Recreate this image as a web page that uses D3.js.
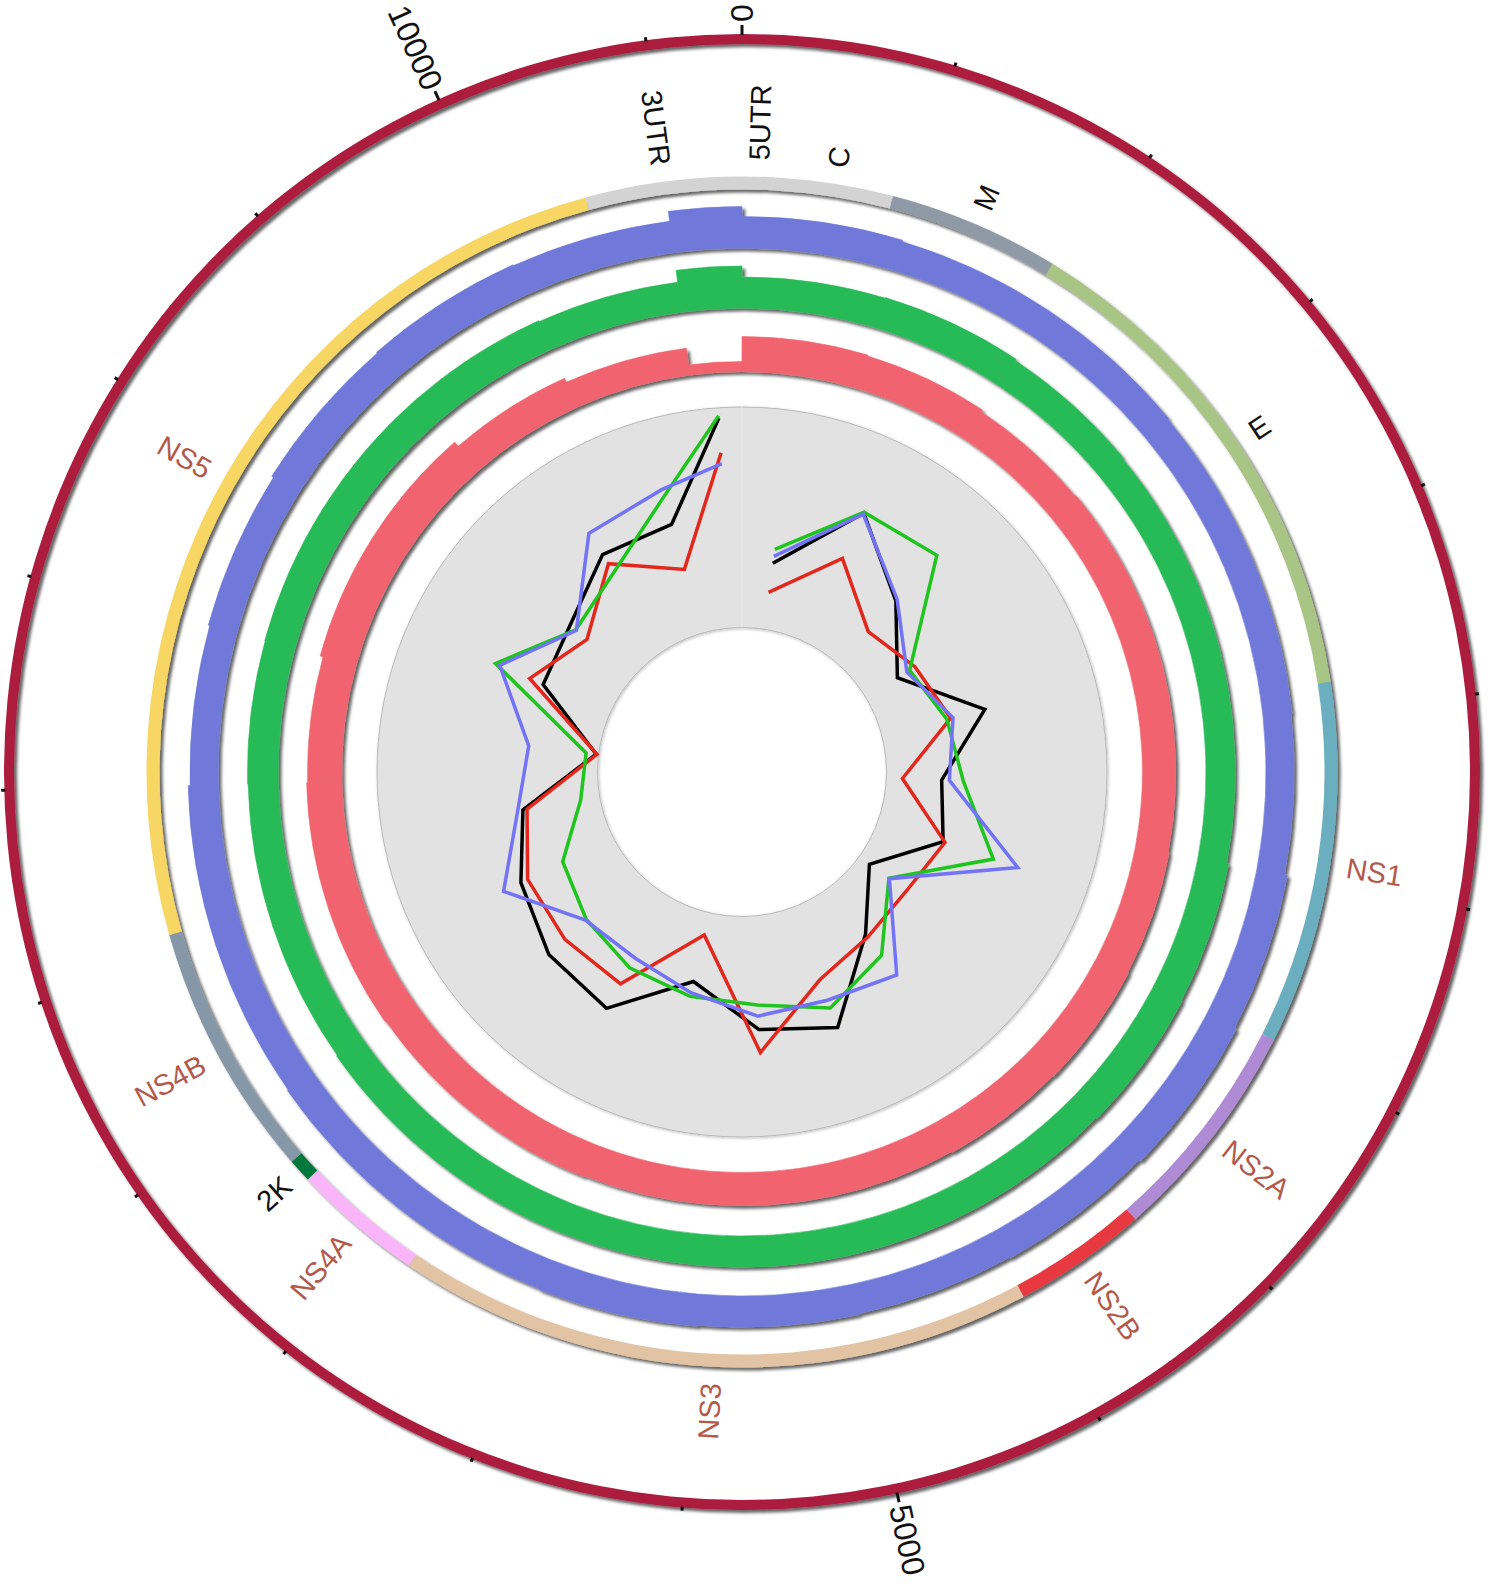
<!DOCTYPE html>
<html>
<head>
<meta charset="utf-8">
<script src="https://cdn.jsdelivr.net/npm/d3@7"></script>
<style>
  body { margin: 0; background: #fff; }
  text { font-family: "Liberation Sans", Arial, sans-serif; }
</style>
</head>
<body>
<div id="chart"></div>
<script>
// genome annotation (DENV-2, 10723 nt)
const genomeLength = 10723;
const genes      = ['5UTR', 'C', 'M', 'E', 'NS1', 'NS2A', 'NS2B', 'NS3', 'NS4A', '2K', 'NS4B', 'NS5', '3UTR'];
const geneStart  = [0, 96, 438, 936, 2421, 3477, 4131, 4521, 6375, 6756, 6825, 7569, 10269];
const geneEnd    = [96, 438, 936, 2421, 3477, 4131, 4521, 6375, 6756, 6825, 7569, 10269, 10723];
const geneColors = ['#d3d3d3', '#d3d3d3', '#8e9aa6', '#a9c585', '#6aaec0', '#b08bd5', '#e8373f',
                    '#e2c3a3', '#fab5fa', '#06783a', '#8698a8', '#f7d663', '#d3d3d3'];
const labelColors = ['#111', '#111', '#111', '#111', '#b2594b', '#b2594b', '#b2594b',
                     '#b2594b', '#b2594b', '#111', '#b2594b', '#b2594b', '#111'];

// 500 nt windows
const windowSize = 500;
const windowStarts = d3.range(0, genomeLength, windowSize);

// histogram tracks (one value per window)
const blueBins  = [63, 60, 60, 58, 58, 56, 62, 66, 62, 60, 62, 64, 62, 62, 60, 60, 56, 59, 63, 65, 63, 83];
const greenBins = [62, 63, 60, 58, 58, 58, 62, 64, 62, 62, 62, 62, 62, 62, 60, 60, 61, 62, 62, 62, 60, 84];
const redBins   = [70, 68, 64, 66, 66, 66, 68, 70, 68, 66, 66, 66, 68, 68, 70, 70, 68, 74, 74, 63, 54, 20];

// line tracks (one value per window midpoint)
const blackLine = [0.302, 0.642, 0.388, 0.169, 0.482, 0.251, 0.310, 0.058, 0.269, 0.582, 0.515,
                   0.320, 0.580, 0.550, 0.466, 0.353, 0.011, 0.330, 0.370, 0.516, 0.512, 0.953];
const redLine   = [0.168, 0.415, 0.201, 0.263, 0.322, 0.073, 0.319, 0.265, 0.286, 0.351, 0.620,
                   0.103, 0.452, 0.450, 0.432, 0.334, 0.007, 0.397, 0.270, 0.467, 0.300, 0.796];
const greenLine = [0.365, 0.646, 0.666, 0.234, 0.304, 0.349, 0.551, 0.167, 0.389, 0.487, 0.404,
                   0.389, 0.369, 0.317, 0.254, 0.087, 0.057, 0.566, 0.337, 0.421, 0.642, 0.964];
const blueLine  = [0.333, 0.637, 0.397, 0.219, 0.333, 0.286, 0.668, 0.170, 0.502, 0.450, 0.454,
                   0.372, 0.318, 0.322, 0.554, 0.377, 0.319, 0.545, 0.333, 0.631, 0.676, 0.746];

const majorTicks = [0, 5000, 10000];

const width = 1492;
const height = 1587;
const cx = 742, cy = 772;

const svg = d3.select('#chart').append('svg')
  .attr('width', width)
  .attr('height', height);

const defs = svg.append('defs');
defs.append('filter')
  .attr('id', 'shadow')
  .attr('x', '-10%').attr('y', '-10%').attr('width', '120%').attr('height', '120%')
  .append('feDropShadow')
  .attr('dx', 3).attr('dy', 3).attr('stdDeviation', 1.6)
  .attr('flood-color', '#000').attr('flood-opacity', 0.6);
defs.append('filter')
  .attr('id', 'softShadow')
  .attr('x', '-10%').attr('y', '-10%').attr('width', '120%').attr('height', '120%')
  .append('feDropShadow')
  .attr('dx', 1).attr('dy', 1).attr('stdDeviation', 1.5)
  .attr('flood-color', '#000').attr('flood-opacity', 0.25);

const g = svg.append('g').attr('transform', `translate(${cx},${cy})`);

const angle = d3.scaleLinear().domain([0, genomeLength]).range([0, 2 * Math.PI]);
const deg = v => angle(v) * 180 / Math.PI;

// windows as objects
const windows = windowStarts.map((s, i) => ({
  start: s,
  end: Math.min(s + windowSize, genomeLength),
  blue: blueBins[i], green: greenBins[i], red: redBins[i],
  black: blackLine[i], redL: redLine[i], greenL: greenLine[i], blueL: blueLine[i]
}));
windows.forEach(d => d.mid = (d.start + d.end) / 2);

// ---------- outer scale ring ----------
const ringInner = 728, ringOuter = 738;
g.append('path')
  .attr('d', d3.arc().innerRadius(ringInner).outerRadius(ringOuter).startAngle(0).endAngle(2 * Math.PI)())
  .attr('fill', '#ac1c3d')
  .attr('filter', 'url(#shadow)');

const ticks = d3.range(0, genomeLength, 500);
g.selectAll('.tick')
  .data(ticks)
  .enter().append('line')
  .attr('class', 'tick')
  .attr('transform', d => `rotate(${deg(d) - 90})`)
  .attr('x1', ringOuter - 1)
  .attr('x2', d => majorTicks.includes(d) ? ringOuter + 9 : ringOuter + 3)
  .attr('stroke', '#111')
  .attr('stroke-width', 3);

g.selectAll('.tickLabel')
  .data(majorTicks)
  .enter().append('text')
  .attr('class', 'tickLabel')
  .attr('transform', d => {
    const a = deg(d);
    return a > 180 ? `rotate(${a - 90}) translate(${ringOuter + 12},0) rotate(180)`
                   : `rotate(${a - 90}) translate(${ringOuter + 12},0)`;
  })
  .attr('text-anchor', d => deg(d) > 180 ? 'end' : 'start')
  .attr('dominant-baseline', 'central')
  .attr('font-size', 32)
  .attr('fill', '#111')
  .text(d => d);

// ---------- gene track ----------
const geneData = genes.map((name, i) => ({
  name, start: geneStart[i], end: geneEnd[i], color: geneColors[i], labelColor: labelColors[i]
}));

const geneArc = d3.arc()
  .innerRadius(582.5)
  .outerRadius(595.5)
  .startAngle(d => angle(d.start))
  .endAngle(d => angle(d.end));

g.append('g')
  .attr('filter', 'url(#shadow)')
  .selectAll('path')
  .data(geneData)
  .enter().append('path')
  .attr('d', geneArc)
  .attr('fill', d => d.color);

const labelR = 612;
g.selectAll('.geneLabel')
  .data(geneData)
  .enter().append('text')
  .attr('class', 'geneLabel')
  .attr('transform', d => {
    const a = deg((d.start + d.end) / 2);
    return a > 180 ? `rotate(${a - 90}) translate(${labelR},0) rotate(180)`
                   : `rotate(${a - 90}) translate(${labelR},0)`;
  })
  .attr('text-anchor', d => deg((d.start + d.end) / 2) > 180 ? 'end' : 'start')
  .attr('dominant-baseline', 'central')
  .attr('font-size', 29)
  .attr('fill', d => d.labelColor)
  .text(d => d.name);

// ---------- histogram tracks ----------
function histTrack(key, inner, color) {
  const r = d3.scaleLinear().domain([0, 100]).range([inner, inner + 50]);
  const arc = d3.arc()
    .innerRadius(inner)
    .outerRadius(d => r(d[key]))
    .startAngle(d => angle(d.start))
    .endAngle(d => angle(d.end));
  g.append('g')
    .attr('filter', 'url(#shadow)')
    .selectAll('path')
    .data(windows)
    .enter().append('path')
    .attr('d', arc)
    .attr('fill', color)
    .attr('stroke', color)
    .attr('stroke-width', 0.6);
}
histTrack('blue', 524, '#6f79da');
histTrack('green', 464, '#26bb57');
histTrack('red', 400.5, '#f2646f');

// ---------- line track ----------
const lineInner = 144.5, lineOuter = 365;
g.append('path')
  .attr('d', d3.arc().innerRadius(lineInner).outerRadius(lineOuter).startAngle(0).endAngle(2 * Math.PI)())
  .attr('fill', '#e2e2e2')
  .attr('stroke', '#b8b8b8')
  .attr('stroke-width', 1)
  .attr('filter', 'url(#softShadow)');
g.append('line')
  .attr('y1', -lineInner).attr('y2', -lineOuter)
  .attr('stroke', '#ececec').attr('stroke-width', 1);

const rLine = d3.scaleLinear().domain([0, 1]).range([lineInner, lineOuter]);

const series = [
  { key: 'black', color: '#000000' },
  { key: 'redL', color: '#e2281d' },
  { key: 'greenL', color: '#1fc41f' },
  { key: 'blueL', color: '#7373f7' }
];

series.forEach(s => {
  const line = d3.lineRadial()
    .angle(d => angle(d.mid))
    .radius(d => rLine(d[s.key]));
  g.append('path')
    .datum(windows)
    .attr('d', line)
    .attr('fill', 'none')
    .attr('stroke', s.color)
    .attr('stroke-width', 3.5)
    .attr('stroke-linejoin', 'miter');
});
</script>
</body>
</html>
